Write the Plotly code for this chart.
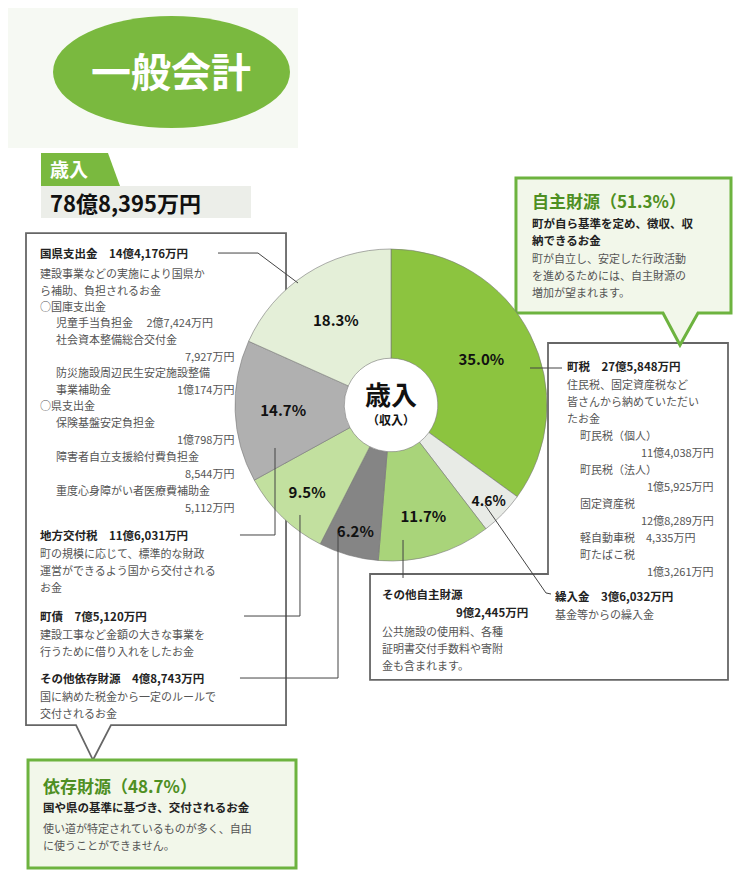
import plotly.graph_objects as go

W, H = 750, 877
FONT = "Noto Sans CJK JP"

# 歳入の内訳 (時計回り、12時から)
labels = ['町税', '繰入金', 'その他自主財源', 'その他依存財源', '町債', '地方交付税', '国県支出金']
shares = [35.0, 4.6, 11.7, 6.2, 9.5, 14.7, 18.3]
colors = ['#8cc43f', '#e8ebe6', '#a9d47a', '#858585', '#c2e09f', '#b0b0b0', '#e4efd8']
total_label = '78億8,395万円'

left_lines = [
    ('国県支出金　14億4,176万円', 245, 30, 'b'),
    ('建設事業などの実施により国県か', 265, 30, 'n'),
    ('ら補助、負担されるお金', 282, 30, 'n'),
    ('○国庫支出金', 298, 30, 'n'),
    ('児童手当負担金　 2億7,424万円', 314, 46, 'n'),
    ('社会資本整備総合交付金', 331, 46, 'n'),
    ('7,927万円', 348, 228, 'r'),
    ('防災施設周辺民生安定施設整備', 364, 46, 'n'),
    ('事業補助金', 381, 46, 'n'),
    ('1億174万円', 381, 228, 'r'),
    ('○県支出金', 397, 30, 'n'),
    ('保険基盤安定負担金', 414, 46, 'n'),
    ('1億798万円', 431, 228, 'r'),
    ('障害者自立支援給付費負担金', 448, 46, 'n'),
    ('8,544万円', 465, 228, 'r'),
    ('重度心身障がい者医療費補助金', 482, 46, 'n'),
    ('5,112万円', 499, 228, 'r'),
    ('地方交付税　11億6,031万円', 527, 30, 'b'),
    ('町の規模に応じて、標準的な財政', 545, 30, 'n'),
    ('運営ができるよう国から交付される', 562, 30, 'n'),
    ('お金', 579, 30, 'n'),
    ('町債　7億5,120万円', 608, 30, 'b'),
    ('建設工事など金額の大きな事業を', 626, 30, 'n'),
    ('行うために借り入れをしたお金', 643, 30, 'n'),
    ('その他依存財源　4億8,743万円', 670, 30, 'b'),
    ('国に納めた税金から一定のルールで', 688, 30, 'n'),
    ('交付されるお金', 705, 30, 'n'),
]
right_lines = [
    ('町税　27億5,848万円', 358, 557, 'b'),
    ('住民税、固定資産税など', 376, 557, 'n'),
    ('皆さんから納めていただい', 393, 557, 'n'),
    ('たお金', 410, 557, 'n'),
    ('町民税（個人）', 427, 570, 'n'),
    ('11億4,038万円', 444, 708, 'r'),
    ('町民税（法人）', 461, 570, 'n'),
    ('1億5,925万円', 478, 708, 'r'),
    ('固定資産税', 495, 570, 'n'),
    ('12億8,289万円', 512, 708, 'r'),
    ('軽自動車税　4,335万円', 529, 570, 'n'),
    ('町たばこ税', 546, 570, 'n'),
    ('1億3,261万円', 563, 708, 'r'),
    ('繰入金　3億6,032万円', 588, 545, 'b'),
    ('基金等からの繰入金', 606, 545, 'n'),
    ('その他自主財源', 586, 372, 'b'),
    ('9億2,445万円', 604, 522, 'rb'),
    ('公共施設の使用料、各種', 623, 372, 'n'),
    ('証明書交付手数料や寄附', 640, 372, 'n'),
    ('金も含まれます。', 657, 372, 'n'),
]


def px(x):
    return x / W


def py(y):
    return 1 - y / H


def path(pts, close=False):
    s = 'M ' + ' L '.join(f'{px(x):.4f},{py(y):.4f}' for x, y in pts)
    return s + (' Z' if close else '')


fig = go.Figure(go.Pie(
    labels=labels, values=shares, marker=dict(colors=colors, line=dict(color='#777', width=0.6)),
    sort=False, direction='clockwise', rotation=0, hole=0.3,
    texttemplate='<b>%{value:.1f}%</b>', textposition='inside', insidetextorientation='horizontal',
    textfont=dict(family=FONT, size=15, color='#111'), hoverinfo='skip',
    domain=dict(x=[px(227), px(539)], y=[py(553), py(241)]),
    showlegend=False,
))

shapes = []
anns = []


def T(s, x, y, size=11, color='#555', bold=False, xa='left'):
    anns.append(dict(text=f'<b>{s}</b>' if bold else s, x=px(x), y=py(y), xref='paper', yref='paper',
                     xanchor=xa, yanchor='middle', showarrow=False,
                     font=dict(family=FONT, size=size, color=color)))


def L(pts, color='#444', w=1):
    shapes.append(dict(type='path', path=path(pts), xref='paper', yref='paper',
                       line=dict(color=color, width=w)))


def P(pts, fill, line='#666', w=2):
    shapes.append(dict(type='path', path=path(pts, True), xref='paper', yref='paper',
                       fillcolor=fill, line=dict(color=line, width=w), layer='below'))


# top-left pale background
shapes.append(dict(type='rect', x0=0, x1=px(290), y0=py(140), y1=1, xref='paper', yref='paper',
                   fillcolor='#f6f9f3', line_width=0, layer='below'))
shapes.append(dict(type='circle', x0=px(45), x1=px(282), y0=py(120), y1=py(8), xref='paper', yref='paper',
                   fillcolor='#7ab93f', line_width=0))
T('一般会計', 163, 62, 40, 'white', True, 'center')

# 歳入 total
P([(33, 145), (100, 145), (112, 178), (33, 178)], '#7ab93f', '#7ab93f', 0)
T('歳入', 40, 161, 19, 'white', True)
shapes.append(dict(type='rect', x0=px(33), x1=px(243), y0=py(210), y1=py(178), xref='paper', yref='paper',
                   fillcolor='#eceee9', line_width=0))
T(total_label, 40, 194, 22, '#111', True)

# boxes
P([(18, 225), (278, 225), (278, 717), (103, 717), (85, 752), (68, 717), (18, 717)], 'white', '#666', 1.8)
P([(540, 335), (720, 335), (720, 672), (362, 672), (362, 566), (540, 566)], 'white', '#666', 1.8)
P([(20, 752), (288, 752), (288, 860), (20, 860)], '#f2f7ea', '#6db33f', 3)
P([(508, 170), (723, 170), (723, 305), (690, 305), (672, 337), (655, 305), (508, 305)], '#f2f7ea', '#6db33f', 3)

# leader lines
L([(210, 245), (250, 245), (290, 275)])
L([(232, 527), (267, 527), (267, 440)])
L([(236, 608), (292, 608), (292, 507)])
L([(232, 670), (330, 670), (330, 525)])
L([(522, 360), (554, 360)])
L([(477, 497), (538, 585), (543, 586)])
L([(395, 532), (395, 570)])

for s, y, x, k in left_lines + right_lines:
    if k == 'b':
        T(s, x, y, 11.5, '#222', True)
    elif k == 'r':
        T(s, x, y, 11, '#555', False, 'right')
    elif k == 'rb':
        T(s, x, y, 11.5, '#222', True, 'right')
    else:
        T(s, x, y, 11, '#555')

# callouts
T('自主財源（51.3%）', 522, 193, 17, '#4e8f22', True)
T('町が自ら基準を定め、徴収、収', 522, 215, 11.5, '#222', True)
T('納できるお金', 522, 232, 11.5, '#222', True)
T('町が自立し、安定した行政活動', 522, 250, 11, '#555')
T('を進めるためには、自主財源の', 522, 267, 11, '#555')
T('増加が望まれます。', 522, 284, 11, '#555')
T('依存財源（48.7%）', 33, 777, 17, '#4e8f22', True)
T('国や県の基準に基づき、交付されるお金', 33, 799, 11.5, '#222', True)
T('使い道が特定されているものが多く、自由', 33, 820, 11, '#555')
T('に使うことができません。', 33, 837, 11, '#555')

# center
T('歳入', 383, 385, 26, '#111', True, 'center')
T('（収入）', 383, 411, 12, '#111', True, 'center')

fig.update_layout(width=W, height=H, margin=dict(l=0, r=0, t=0, b=0),
                  paper_bgcolor='white', plot_bgcolor='white', shapes=shapes, annotations=anns)
fig.write_html("out.html")
